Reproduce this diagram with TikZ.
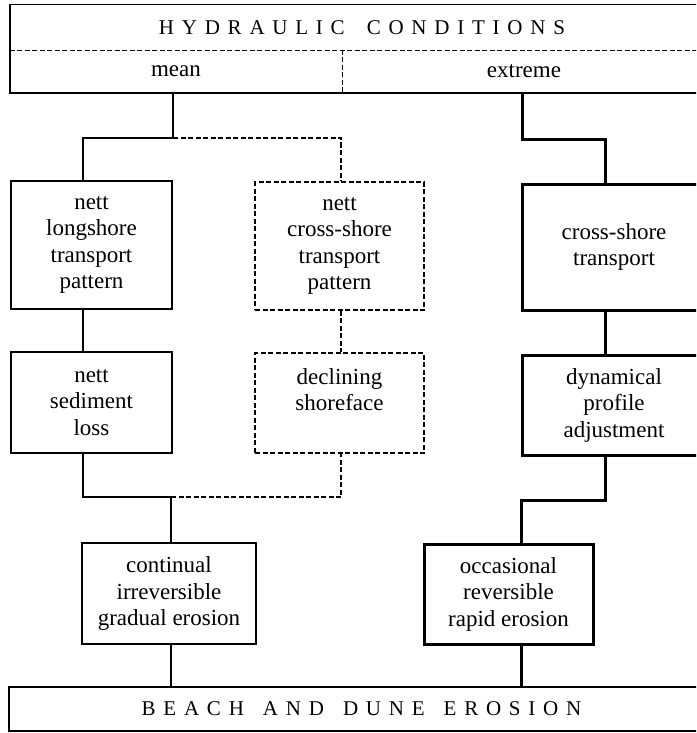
\documentclass[tikz,border=0pt]{standalone}
\usepackage{fontspec}
\setmainfont{Liberation Serif}
\newfontfamily\trackfont[LetterSpace=37]{Liberation Serif}
\tikzset{
  thinline/.style={line width=1.4pt},
  thickline/.style={line width=3pt},
  dashline/.style={line width=1.2pt, dash pattern=on 5pt off 2.5pt},
  boxbase/.style={inner sep=0pt, align=center, font=\fontsize{23}{26.5}\selectfont},
  solidbox/.style={boxbase, draw, thinline},
  dashbox/.style={boxbase, draw, dashline},
  heavybox/.style={boxbase, draw, thickline},
  capstext/.style={font=\trackfont\fontsize{21}{24}\selectfont},
}
\begin{document}
\begin{tikzpicture}[x=1pt, y=-1pt]
\useasboundingbox (0,0) rectangle (696,733);
\clip (0,0) rectangle (696,733);

% header
\node[boxbase, capstext, minimum width=696pt, minimum height=45pt] (hc) at (358,27.5) {HYDRAULIC\hspace{9pt} CONDITIONS\hspace{-8pt}};
\node[boxbase, minimum width=332pt, minimum height=43pt] (mean) at (176,71.5) {mean};
\node[boxbase, minimum width=364pt, minimum height=43pt] (ext) at (524,71.5) {extreme};
\draw[thinline] (hc.north west) rectangle (ext.south east);
\draw[dashline] (hc.south west) -- (hc.south east);
\draw[dashline] (mean.north east) -- (mean.south east);

% boxes
\node[solidbox, minimum width=161pt, minimum height=128pt] (L1) at (91.5,245) {nett\\longshore\\transport\\pattern};
\node[dashbox, minimum width=169pt, minimum height=128pt] (M1) at (339.5,246) {nett\\cross-shore\\transport\\pattern};
\node[heavybox, minimum width=184pt, minimum height=126pt] (R1) at (614,247) {cross-shore\\transport};
\node[solidbox, minimum width=161pt, minimum height=101pt] (L2) at (91.5,402.5) {nett\\sediment\\loss};
\node[dashbox, minimum width=169pt, minimum height=100pt] (M2) at (339.5,403) {declining\\shoreface\\\mbox{}};
\node[heavybox, minimum width=184pt, minimum height=100pt] (R2) at (614,405) {dynamical\\profile\\adjustment};
\node[solidbox, minimum width=174pt, minimum height=101pt] (L3) at (169,593.5) {continual\\irreversible\\gradual erosion};
\node[heavybox, minimum width=169pt, minimum height=100pt] (R3) at (508.5,594) {occasional\\reversible\\rapid erosion};
\node[solidbox, capstext, minimum width=697pt, minimum height=44pt] (bot) at (357.5,709) {BEACH\hspace{6pt} AND\hspace{6pt} DUNE\hspace{6pt} EROSION\hspace{-8pt}};

% connector reference points
\coordinate (xa) at (83,0);
\coordinate (xm) at (173,0);
\coordinate (xc) at (341,0);
\coordinate (xr) at (605,0);
\coordinate (xo) at (521,0);
\coordinate (j1) at (173,138);
\coordinate (j2) at (171,497);
\coordinate (e1) at (522,139);
\coordinate (e2) at (605,500);

% connectors
\draw[thinline] (mean.south -| xm) -- (j1) -| (L1.north -| xa);
\draw[dashline] (j1) -| (M1.north -| xc);
\draw[thickline] (ext.south -| e1) -- (e1) -| (R1.north -| xr);
\draw[thinline] (L1.south -| xa) -- (L2.north -| xa);
\draw[dashline] (M1.south -| xc) -- (M2.north -| xc);
\draw[thickline] (R1.south -| xr) -- (R2.north -| xr);
\draw[thinline] (L2.south -| xa) |- (j2) -- (L3.north -| j2);
\draw[dashline] (j2) -| (M2.south -| xc);
\draw[thickline] (R2.south -| e2) -- (e2) -| (R3.north -| xo);
\draw[thinline] (L3.south -| j2) -- (bot.north -| j2);
\draw[thickline] (R3.south -| xo) -- (bot.north -| xo);
\end{tikzpicture}
\end{document}
